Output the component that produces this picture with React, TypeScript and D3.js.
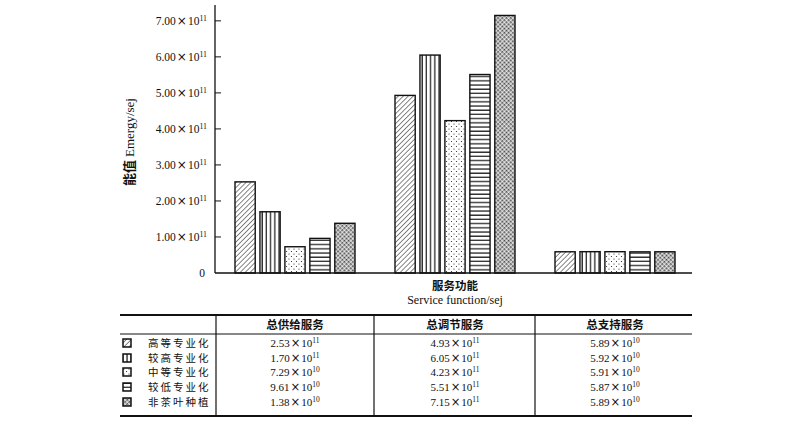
import * as d3 from "d3";

const categories = ["总供给服务", "总调节服务", "总支持服务"];
const seriesNames = ["高等专业化", "较高专业化", "中等专业化", "较低专业化", "非茶叶种植"];
// bar heights, one row per series, one value per category
const barValues = [
  [2.53e11, 4.93e11, 5.89e10],
  [1.7e11, 6.05e11, 5.92e10],
  [7.29e10, 4.23e11, 5.91e10],
  [9.61e10, 5.51e11, 5.87e10],
  [1.38e11, 7.15e11, 5.89e10],
];
// table cells as printed (mantissa, exponent)
const tableCells = [
  [["2.53", "11"], ["4.93", "11"], ["5.89", "10"]],
  [["1.70", "11"], ["6.05", "11"], ["5.92", "10"]],
  [["7.29", "10"], ["4.23", "11"], ["5.91", "10"]],
  [["9.61", "10"], ["5.51", "11"], ["5.87", "10"]],
  [["1.38", "10"], ["7.15", "11"], ["5.89", "10"]],
];
const yTicks = [0, 1e11, 2e11, 3e11, 4e11, 5e11, 6e11, 7e11];

const SERIF = "'Liberation Serif', 'Times New Roman', serif";
const CJK = "'Noto Sans CJK SC', 'Liberation Serif', serif";

const W = 800;
const H = 424;
const plot = { left: 215, right: 695, top: 5, bottom: 273 };

function Sci({ m, e, x, y, anchor = "middle", size = 11 }: { m: string; e: string; x: number; y: number; anchor?: string; size?: number }) {
  return (
    <text x={x} y={y} textAnchor={anchor} fontFamily={SERIF} fontSize={size} fill="#111">
      {m}
      <tspan dx={1} fontFamily="'DejaVu Sans', sans-serif" fontSize={size * 1.05}>×</tspan>
      <tspan dx={1}>10</tspan>
      <tspan dy={-4} fontSize={size * 0.68}>{e}</tspan>
    </text>
  );
}

export default function App() {
  const x0 = d3.scaleBand<string>().domain(categories).range([plot.left, plot.right]);
  const x1 = d3
    .scaleBand<string>()
    .domain(seriesNames)
    .range([x0.bandwidth() / 2 - 60, x0.bandwidth() / 2 + 60])
    .paddingInner(0.19)
    .paddingOuter(0);
  const y = d3.scaleLinear().domain([0, 7.44e11]).range([plot.bottom, plot.top]);

  const patternIds = ["p-diag", "p-vert", "p-dots", "p-horiz", "p-cross"];

  const tableTop = 315;
  const headerBottom = 334;
  const tableBottom = 416;
  const tableLeft = 120;
  const tableRight = 692;
  const rowY = [347, 362, 376, 391, 406];
  const colDividers = [216, 374, 535];

  return (
    <svg width={W} height={H} style={{ position: "absolute", left: 0, top: 0, background: "#fff" }}>
      <defs>
        <pattern id="p-diag" width={3.5} height={3.5} patternUnits="userSpaceOnUse" patternTransform="rotate(45)">
          <rect width={3.5} height={3.5} fill="#fff" />
          <line x1={0} y1={0} x2={0} y2={3.5} stroke="#222" strokeWidth={1.1} />
        </pattern>
        <pattern id="p-vert" width={4.2} height={4} patternUnits="userSpaceOnUse">
          <rect width={4.2} height={4} fill="#fff" />
          <line x1={1} y1={0} x2={1} y2={4} stroke="#111" strokeWidth={1.2} />
        </pattern>
        <pattern id="p-dots" width={5} height={5} patternUnits="userSpaceOnUse">
          <rect width={5} height={5} fill="#fff" />
          <circle cx={1.5} cy={1.5} r={0.6} fill="#222" />
          <circle cx={4} cy={4} r={0.6} fill="#222" />
        </pattern>
        <pattern id="p-horiz" width={4} height={4.2} patternUnits="userSpaceOnUse">
          <rect width={4} height={4.2} fill="#fff" />
          <line x1={0} y1={1} x2={4} y2={1} stroke="#111" strokeWidth={1.2} />
        </pattern>
        <pattern id="p-cross" width={3} height={3} patternUnits="userSpaceOnUse" patternTransform="rotate(45)">
          <rect width={3} height={3} fill="#bbb" />
          <rect width={1.5} height={1.5} fill="#444" />
          <rect x={1.5} y={1.5} width={1.5} height={1.5} fill="#eee" />
        </pattern>
      </defs>

      {/* bars */}
      {categories.map((c, ci) => (
        <g key={c} transform={`translate(${x0(c)},0)`}>
          {seriesNames.map((s, si) => {
            const v = barValues[si][ci];
            return (
              <rect
                key={s}
                x={x1(s)}
                y={y(v)}
                width={x1.bandwidth()}
                height={plot.bottom - y(v)}
                fill={`url(#${patternIds[si]})`}
                stroke="#111"
                strokeWidth={1.4}
              />
            );
          })}
        </g>
      ))}

      {/* axes */}
      <line x1={plot.left} y1={plot.top} x2={plot.left} y2={plot.bottom} stroke="#111" strokeWidth={1.3} />
      <line x1={plot.left} y1={plot.bottom} x2={plot.right - 3} y2={plot.bottom} stroke="#111" strokeWidth={1.3} />
      {yTicks.map((t) => (
        <g key={t}>
          {t > 0 && <line x1={plot.left} x2={plot.left + 6} y1={y(t)} y2={y(t)} stroke="#111" strokeWidth={1} />}
          {t === 0 ? (
            <text x={205} y={y(t) + 4} textAnchor="end" fontFamily={SERIF} fontSize={11.5} fill="#111">0</text>
          ) : (
            <Sci m={(t / 1e11).toFixed(2)} e="11" x={207} y={y(t) + 4} anchor="end" size={11.5} />
          )}
        </g>
      ))}

      <text
        transform={`translate(134,142) rotate(-90)`}
        textAnchor="middle"
        fontSize={13}
        fill="#111"
      >
        <tspan fontFamily={CJK} fontWeight={700}>能值 </tspan>
        <tspan fontFamily={SERIF}>Emergy/sej</tspan>
      </text>
      <text x={455} y={290} textAnchor="middle" fontFamily={CJK} fontWeight={700} fontSize={11.5} fill="#111">服务功能</text>
      <text x={455} y={304} textAnchor="middle" fontFamily={SERIF} fontSize={12} fill="#111">Service function/sej</text>

      {/* table */}
      <line x1={tableLeft} x2={tableRight} y1={tableTop} y2={tableTop} stroke="#111" strokeWidth={2} />
      <line x1={tableLeft} x2={tableRight} y1={headerBottom} y2={headerBottom} stroke="#111" strokeWidth={1.2} />
      <line x1={tableLeft} x2={tableRight} y1={tableBottom} y2={tableBottom} stroke="#111" strokeWidth={2} />
      {colDividers.map((cx) => (
        <line key={cx} x1={cx} x2={cx} y1={tableTop} y2={tableBottom} stroke="#111" strokeWidth={1.2} />
      ))}
      {categories.map((c) => (
        <text key={c} x={x0(c)! + x0.bandwidth() / 2} y={329} textAnchor="middle" fontFamily={CJK} fontWeight={700} fontSize={11.5} fill="#111">
          {c}
        </text>
      ))}
      {seriesNames.map((s, si) => (
        <g key={s}>
          <rect x={123} y={rowY[si] - 8} width={8} height={8} fill={`url(#${patternIds[si]})`} stroke="#111" strokeWidth={1.5} />
          <text x={148} y={rowY[si]} fontFamily={CJK} fontSize={10.5} fill="#111" letterSpacing={2}>{s}</text>
          {categories.map((c, ci) => (
            <Sci key={c} m={tableCells[si][ci][0]} e={tableCells[si][ci][1]} x={x0(c)! + x0.bandwidth() / 2} y={rowY[si]} size={11} />
          ))}
        </g>
      ))}
    </svg>
  );
}
